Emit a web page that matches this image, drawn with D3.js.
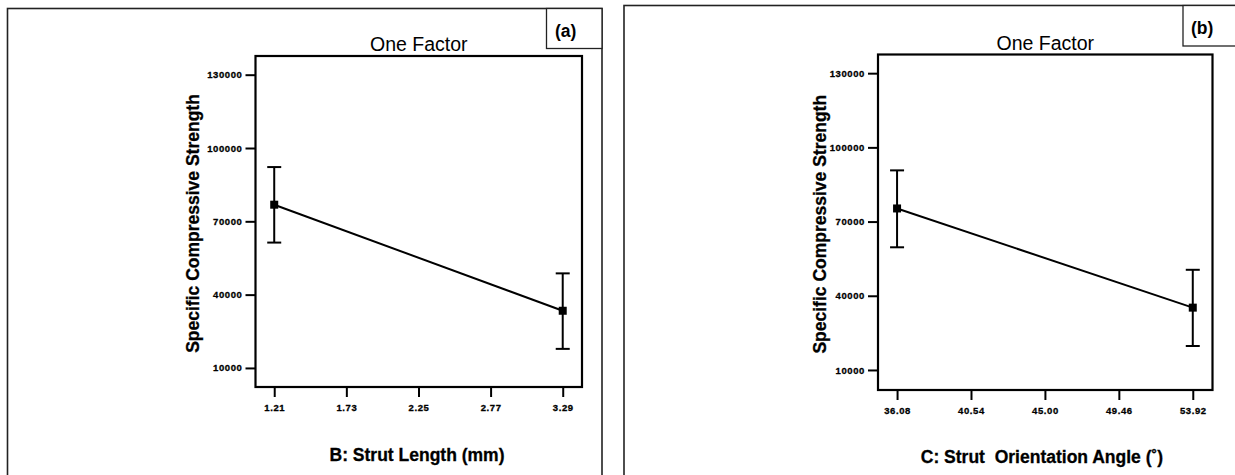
<!DOCTYPE html>
<html>
<head>
<meta charset="utf-8">
<script src="https://cdn.jsdelivr.net/npm/d3@7"></script>
<style>
  body { margin: 0; background: #fff; }
  svg { display: block; font-family: "Liberation Sans", Arial, sans-serif; }
</style>
</head>
<body>
<div id="vis"></div>
<script>
// data
const yTicks = [10000, 40000, 70000, 100000, 130000];

const strutLength = [1.21, 3.29];
const lengthMean = [76800, 33400];
const lengthLow = [61300, 17800];
const lengthHigh = [92200, 48700];
const lengthTicks = [1.21, 1.73, 2.25, 2.77, 3.29];

const strutAngle = [36.08, 53.92];
const angleMean = [75300, 35200];
const angleLow = [59600, 19700];
const angleHigh = [90700, 50500];
const angleTicks = [36.08, 40.54, 45.00, 49.46, 53.92];

const width = 1235, height = 475;
const svg = d3.select("#vis").append("svg")
  .attr("width", width)
  .attr("height", height);

// outer frames + panel tags
function drawFrame(f) {
  svg.append("rect")
    .attr("x", f.x).attr("y", f.y)
    .attr("width", f.w).attr("height", f.h)
    .attr("fill", "none").attr("stroke", "#222").attr("stroke-width", 1.6);
  svg.append("rect")
    .attr("x", f.tagX).attr("y", f.y)
    .attr("width", f.tagW).attr("height", f.tagH)
    .attr("fill", "#fff").attr("stroke", "#222").attr("stroke-width", 1.3);
  svg.append("text")
    .attr("x", f.tagTextX).attr("y", f.y + 28)
    .style("font-size", "17.5px").style("font-weight", "bold")
    .text(f.tag);
}

drawFrame({ x: 7.5, y: 8.5, w: 594.5, h: 480, tag: "(a)", tagX: 546.5, tagW: 55.5, tagH: 40, tagTextX: 555 });
drawFrame({ x: 624, y: 5.5, w: 620, h: 480, tag: "(b)", tagX: 1183, tagW: 60, tagH: 40.5, tagTextX: 1191 });

function drawPanel(p) {
  const x = d3.scaleLinear().domain(p.xDomain).range([p.left, p.right]);
  const y = d3.scaleLinear().domain(p.yDomain).range([p.bottom, p.top]);
  const g = svg.append("g");

  // title
  g.append("text")
    .attr("x", (p.left + p.right) / 2).attr("y", p.top - 5)
    .attr("text-anchor", "middle")
    .style("font-size", "19.5px")
    .text("One Factor");

  // axes
  const yAxis = d3.axisLeft(y).tickValues(yTicks).tickSize(10).tickPadding(3).tickFormat(d3.format("d"));
  const xAxis = d3.axisBottom(x).tickValues(p.xTicks).tickSize(10).tickPadding(7).tickFormat(d3.format(".2f"));

  const ya = g.append("g").attr("transform", `translate(${p.left},0)`).call(yAxis);
  const xa = g.append("g").attr("transform", `translate(0,${p.bottom})`).call(xAxis);
  [ya, xa].forEach(a => {
    a.select(".domain").remove();
    a.selectAll(".tick line").attr("stroke", "#000").attr("stroke-width", 2);
    a.selectAll(".tick text")
      .attr("fill", "#000")
      .attr("stroke", "#000").attr("stroke-width", 0.3)
      .style("font-size", "9.5px")
      .style("font-weight", "bold")
      .style("letter-spacing", "0.6px")
      .style("font-family", "'Liberation Sans', Arial, sans-serif");
  });

  // plot box
  g.append("rect")
    .attr("x", p.left).attr("y", p.top)
    .attr("width", p.right - p.left).attr("height", p.bottom - p.top)
    .attr("fill", "none").attr("stroke", "#000").attr("stroke-width", 2.2);

  const pts = p.xs.map((v, i) => ({ x: v, m: p.mean[i], lo: p.low[i], hi: p.high[i] }));

  // error bars
  const cap = 7;
  pts.forEach(d => {
    const cx = x(d.x);
    g.append("line").attr("x1", cx).attr("x2", cx).attr("y1", y(d.lo)).attr("y2", y(d.hi))
      .attr("stroke", "#000").attr("stroke-width", 2);
    [d.lo, d.hi].forEach(v => {
      g.append("line").attr("x1", cx - cap).attr("x2", cx + cap).attr("y1", y(v)).attr("y2", y(v))
        .attr("stroke", "#000").attr("stroke-width", 2);
    });
  });

  // mean line
  g.append("path")
    .datum(pts)
    .attr("fill", "none").attr("stroke", "#000").attr("stroke-width", 2)
    .attr("d", d3.line().x(d => x(d.x)).y(d => y(d.m)));

  g.selectAll(".pt").data(pts).join("rect")
    .attr("class", "pt")
    .attr("x", d => x(d.x) - 4).attr("y", d => y(d.m) - 4)
    .attr("width", 8).attr("height", 8)
    .attr("fill", "#000");

  // axis titles
  g.append("text")
    .attr("x", p.xLabelX).attr("y", p.xLabelY)
    .attr("text-anchor", "middle")
    .attr("stroke", "#000").attr("stroke-width", 0.3)
    .style("font-size", "17.5px").style("font-weight", "bold")
    .style("white-space", "pre")
    .text(p.xLabel);

  g.append("text")
    .attr("transform", `translate(${p.yLabelX},${(p.top + p.bottom) / 2 + 2}) rotate(-90)`)
    .attr("text-anchor", "middle")
    .attr("stroke", "#000").attr("stroke-width", 0.3)
    .style("font-size", "17.5px").style("font-weight", "bold")
    .text("Specific Compressive Strength");
}

drawPanel({
  left: 255.5, right: 582, top: 56, bottom: 387,
  xDomain: [1.075, 3.429], yDomain: [2200, 137650],
  xTicks: lengthTicks,
  xs: strutLength, mean: lengthMean, low: lengthLow, high: lengthHigh,
  xLabel: "B: Strut Length (mm)", xLabelX: 417, xLabelY: 461,
  yLabelX: 199
});

drawPanel({
  left: 878, right: 1212.5, top: 54.5, bottom: 390,
  xDomain: [34.93, 55.11], yDomain: [1900, 137550],
  xTicks: angleTicks,
  xs: strutAngle, mean: angleMean, low: angleLow, high: angleHigh,
  xLabel: "C: Strut\u00a0 Orientation Angle (\u02da)", xLabelX: 1042, xLabelY: 463,
  yLabelX: 826
});
</script>
</body>
</html>
